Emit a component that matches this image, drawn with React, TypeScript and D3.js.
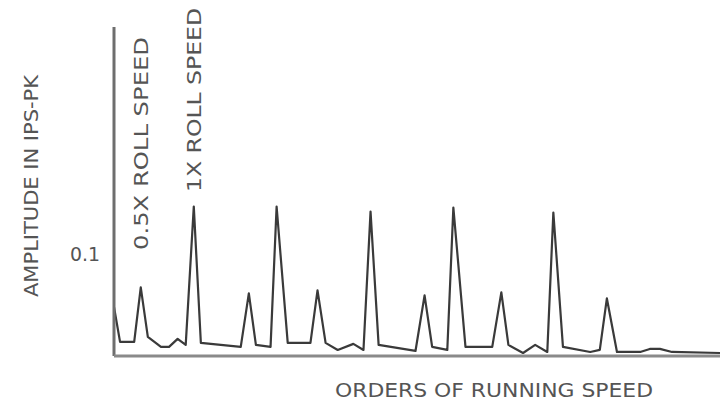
import React, { useEffect, useRef } from "react";
import * as d3 from "d3";

// orders of running speed vs amplitude (ips-pk)
const orders = [
  0, 0.12, 0.4, 0.53, 0.67, 0.93, 1.09, 1.26, 1.42, 1.58, 1.72, 2.51, 2.67, 2.81,
  3.1, 3.22, 3.44, 3.89, 4.03, 4.19, 4.43, 4.74, 4.94, 5.08, 5.24, 5.97, 6.15,
  6.3, 6.6, 6.72, 6.96, 7.49, 7.67, 7.81, 8.1, 8.34, 8.58, 8.7, 8.89, 9.43, 9.62,
  9.76, 9.96, 10.42, 10.61, 10.81, 11.05, 12,
];
const amplitude = [
  0.0475, 0.013, 0.013, 0.067, 0.018, 0.008, 0.008, 0.016, 0.01, 0.147, 0.012,
  0.008, 0.061, 0.01, 0.008, 0.147, 0.012, 0.012, 0.064, 0.012, 0.005, 0.011,
  0.005, 0.142, 0.01, 0.004, 0.059, 0.008, 0.005, 0.146, 0.008, 0.008, 0.062,
  0.01, 0.002, 0.01, 0.003, 0.141, 0.008, 0.003, 0.005, 0.056, 0.003, 0.003,
  0.006, 0.006, 0.003, 0.002,
];
const yTicks = [0.1];
const notes = [
  { label: "0.5X ROLL SPEED", order: 0.53, len: 213, top: 37 },
  { label: "1X ROLL SPEED", order: 1.58, len: 184, top: 8 },
];

const font = "'Liberation Sans Narrow', 'DejaVu Sans Condensed', 'Liberation Sans', sans-serif";

const App = () => {
  const svgRef = useRef<SVGSVGElement>(null);

  useEffect(() => {
    const width = 720, height = 402;
    const left = 114, right = 720, top = 27, bottom = 355;

    const svg = d3.select(svgRef.current)
      .attr("width", width)
      .attr("height", height)
      .style("background", "#fff");
    svg.selectAll("*").remove();

    const x = d3.scaleLinear().domain([0, 12]).range([left, right]);
    const y = d3.scaleLinear().domain([0, 0.1]).range([bottom, 254]);

    const data = orders.map((o, i) => [o, amplitude[i]] as [number, number]);

    svg.append("path")
      .datum(data)
      .attr("fill", "none")
      .attr("stroke", "#3a3a3a")
      .attr("stroke-width", 2.2)
      .attr("stroke-linejoin", "round")
      .attr("d", d3.line<[number, number]>().x(d => x(d[0])).y(d => y(d[1])));

    // axes
    svg.append("line")
      .attr("x1", left).attr("x2", left)
      .attr("y1", top).attr("y2", bottom + 1)
      .attr("stroke", "#6e6e6e").attr("stroke-width", 3);
    svg.append("line")
      .attr("x1", left).attr("x2", right)
      .attr("y1", bottom + 1).attr("y2", bottom + 1)
      .attr("stroke", "#8a8a8a").attr("stroke-width", 3);

    const label = (sel: any, len: any) =>
      sel.attr("text-anchor", "middle")
        .attr("dominant-baseline", "central")
        .style("font-family", font)
        .style("font-size", "20px")
        .attr("fill", "#555")
        .attr("textLength", len)
        .attr("lengthAdjust", "spacingAndGlyphs");

    svg.selectAll(".ytick")
      .data(yTicks)
      .enter().append("text")
      .attr("x", 85)
      .attr("y", d => y(d))
      .call(label, 30)
      .text(d => d.toFixed(1));

    svg.append("text")
      .attr("transform", "translate(31,186) rotate(-90)")
      .call(label, 222)
      .text("AMPLITUDE IN IPS-PK");

    svg.selectAll(".note")
      .data(notes)
      .enter().append("text")
      .attr("transform", d => `translate(${x(d.order)},${d.top + d.len / 2}) rotate(-90)`)
      .call(label, (d: any) => d.len)
      .text(d => d.label);

    svg.append("text")
      .attr("x", 494)
      .attr("y", 390)
      .call(label, 318)
      .text("ORDERS OF RUNNING SPEED");
  }, []);

  return <svg ref={svgRef} style={{ position: "absolute", left: 0, top: 0, display: "block" }}></svg>;
};

export default App;
